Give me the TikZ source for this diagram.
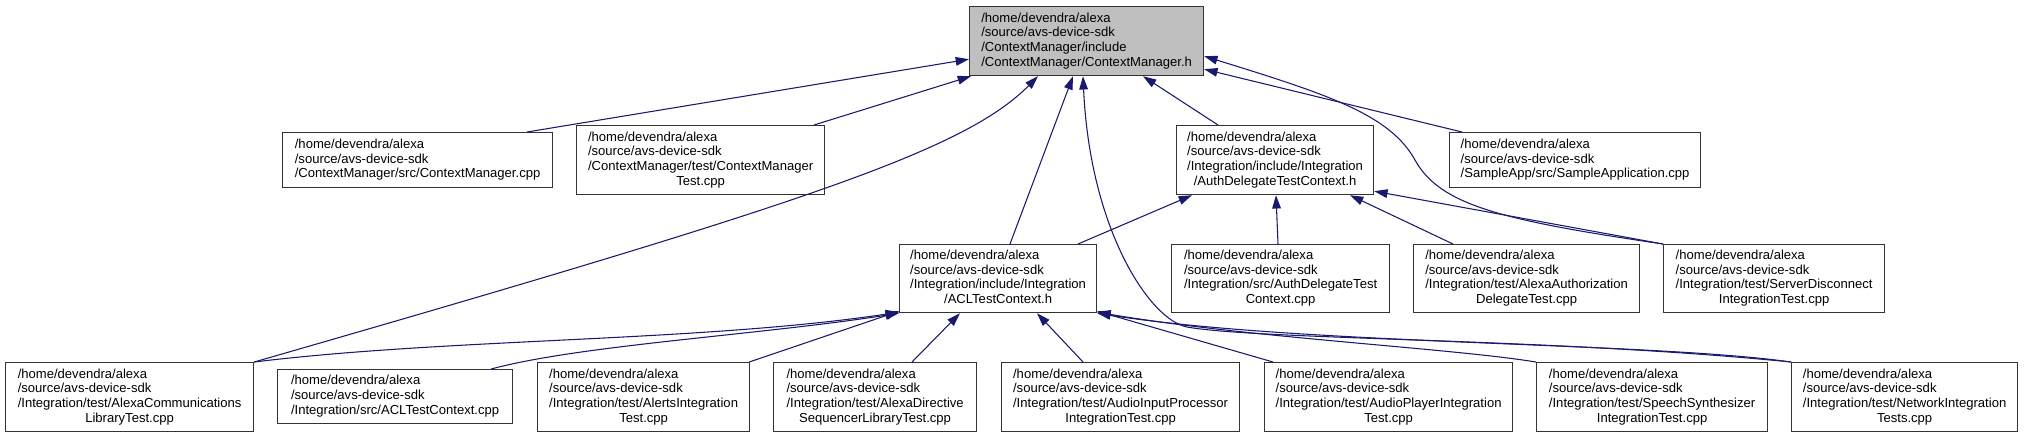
\documentclass[tikz,border=0pt]{standalone}
\usepackage{fontspec}
\setmainfont{Liberation Sans}
\usetikzlibrary{arrows.meta,calc}
\definecolor{mblue}{HTML}{191970}
\definecolor{gfill}{HTML}{BFBFBF}
\newcommand\flines[2]{\begin{tabular}{@{}l@{}}/home/devendra/alexa\\/source/avs-device-sdk\\#1\\\multicolumn{1}{@{}c@{}}{#2}\end{tabular}}
\newcommand\tlines[1]{\begin{tabular}{@{}l@{}}/home/devendra/alexa\\/source/avs-device-sdk\\#1\end{tabular}}
\begin{document}
\begin{tikzpicture}[x=0.75pt,y=-0.75pt,
  box/.style={draw=black!80, line width=0.9pt, inner sep=0pt, anchor=north west,
    font=\fontsize{9.8}{11}\selectfont, fill=white},
  sz/.style 2 args={minimum width=#1*0.75pt, minimum height=#2*0.75pt},
  edge/.style={draw=mblue, line width=0.8pt, -{Triangle[length=10pt,width=6.5pt]}}]
\useasboundingbox (0,0) rectangle (2024,437);
% nodes
\node[box, sz={234}{69}, fill=gfill] (main) at (969,6) {\flines{/ContextManager/include}{/ContextManager/ContextManager.h}};
\node[box, sz={270}{55}] (cmcpp) at (282,132) {\tlines{/ContextManager/src/ContextManager.cpp}};
\node[box, sz={248}{69}] (cmtest) at (576,125) {\flines{/ContextManager/test/ContextManager}{Test.cpp}};
\node[box, sz={197}{69}] (adh) at (1176,125) {\flines{/Integration/include/Integration}{/AuthDelegateTestContext.h}};
\node[box, sz={251}{55}] (sample) at (1449,132) {\tlines{/SampleApp/src/SampleApplication.cpp}};
\node[box, sz={197}{68}] (aclh) at (899,244) {\flines{/Integration/include/Integration}{/ACLTestContext.h}};
\node[box, sz={218}{68}] (adcpp) at (1171,244) {\flines{/Integration/src/AuthDelegateTest}{Context.cpp}};
\node[box, sz={226}{68}] (aadt) at (1413,244) {\flines{/Integration/test/AlexaAuthorization}{DelegateTest.cpp}};
\node[box, sz={221}{68}] (sdit) at (1663,244) {\flines{/Integration/test/ServerDisconnect}{IntegrationTest.cpp}};
\node[box, sz={248}{69}] (aclt) at (5,362) {\flines{/Integration/test/AlexaCommunications}{LibraryTest.cpp}};
\node[box, sz={235}{54}] (acltc) at (277,369) {\tlines{/Integration/src/ACLTestContext.cpp}};
\node[box, sz={212}{69}] (alerts) at (537,362) {\flines{/Integration/test/AlertsIntegration}{Test.cpp}};
\node[box, sz={203}{69}] (adsl) at (773,362) {\flines{/Integration/test/AlexaDirective}{SequencerLibraryTest.cpp}};
\node[box, sz={238}{69}] (aip) at (1001,362) {\flines{/Integration/test/AudioInputProcessor}{IntegrationTest.cpp}};
\node[box, sz={248}{69}] (ap) at (1264,362) {\flines{/Integration/test/AudioPlayerIntegration}{Test.cpp}};
\node[box, sz={231}{69}] (ss) at (1536,362) {\flines{/Integration/test/SpeechSynthesizer}{IntegrationTest.cpp}};
\node[box, sz={226}{69}] (net) at (1791,362) {\flines{/Integration/test/NetworkIntegration}{Tests.cpp}};
% edges to main
\draw[edge] ($(cmcpp.north west)+(245,0)$) -- ($(main.south west)+(0,-17)$);
\draw[edge] ($(cmtest.north west)+(238,0)$) -- ($(main.south west)+(2,0)$);
\draw[edge] (aclt.north east) .. controls (810,202) and (965,150) .. ($(main.south west)+(69,0)$);
\draw[edge] ($(aclh.north west)+(111,0)$) -- ($(main.south west)+(104,0)$);
\draw[edge] (net.north west) .. controls (1550,338) and (1260,340) .. (1187,327)
  .. controls (1150,320) and (1090,230) .. ($(main.south west)+(114,0)$);
\draw[edge] ($(adh.north west)+(42,0)$) -- ($(main.south west)+(174,0)$);
\draw[edge] (sdit.north west) .. controls (1500,220) and (1440,205) .. (1415,160)
  .. controls (1390,115) and (1330,95) .. ($(main.south east)+(0,-20)$);
\draw[edge] ($(sample.north west)+(13,0)$) -- ($(main.south east)+(0,-7)$);
% edges to AuthDelegateTestContext.h
\draw[edge] ($(aclh.north west)+(179,0)$) -- ($(adh.south west)+(16,0)$);
\draw[edge] ($(adcpp.north west)+(107,0)$) -- ($(adh.south west)+(100,0)$);
\draw[edge] ($(aadt.north west)+(40,0)$) -- ($(adh.south west)+(174,0)$);
\draw[edge] (sdit.north west) -- ($(adh.south east)+(0,-4)$);
% edges to ACLTestContext.h
\draw[edge] (aclt.north east) .. controls (450,338) and (700,342) .. ($(aclh.south west)+(0,-1)$);
\draw[edge] ($(acltc.north east)+(-22,0)$) .. controls (580,345) and (760,335) .. (aclh.south west);
\draw[edge] ($(alerts.north east)+(-1,0)$) -- ($(aclh.south west)+(0,-2)$);
\draw[edge] ($(adsl.north west)+(139,0)$) -- ($(aclh.south west)+(61,0)$);
\draw[edge] ($(aip.north west)+(82,0)$) -- ($(aclh.south west)+(138,0)$);
\draw[edge] ($(ap.north west)+(9,0)$) -- ($(aclh.south east)+(0,-2)$);
\draw[edge] (ss.north west) .. controls (1450,348) and (1250,338) .. ($(aclh.south east)+(0,-1)$);
\draw[edge] (net.north west) .. controls (1650,342) and (1300,345) .. (aclh.south east);
\end{tikzpicture}
\end{document}
